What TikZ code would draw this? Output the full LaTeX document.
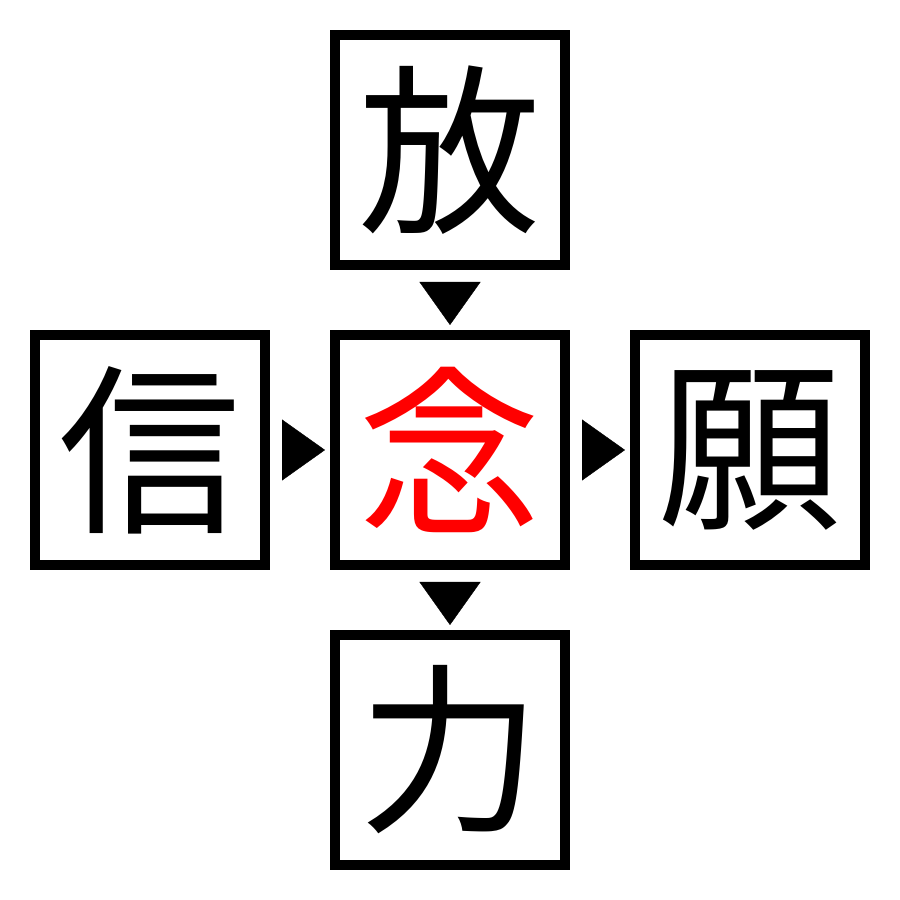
\documentclass[tikz,border=0pt]{standalone}
\usepackage{fontspec}
\newfontfamily\cjk{Noto Sans CJK JP}
\usetikzlibrary{arrows.meta}

\begin{document}
\begin{tikzpicture}[node distance=3cm,
  box/.style={draw,line width=0.1cm,minimum size=2.3cm,inner sep=0pt,
    font=\cjk\fontsize{52pt}{52pt}\selectfont},
  tip/.style={-{Triangle[length=0.43cm,width=0.61cm,black]},draw=white,
    line width=0.1pt,shorten <=0.1cm,shorten >=0.05cm}]
  \useasboundingbox (0,0) rectangle (9,9);
  \node[box,text=red] (nian) at (4.5,4.5) {念};
  \node[box] (fang) [above of=nian] {放};
  \node[box] (xin) [left of=nian] {信};
  \node[box] (yuan) [right of=nian] {願};
  \node[box] (li) [below of=nian] {力};
  \draw[tip] (fang) -- (nian);
  \draw[tip] (xin) -- (nian);
  \draw[tip] (nian) -- (yuan);
  \draw[tip] (nian) -- (li);
\end{tikzpicture}
\end{document}
